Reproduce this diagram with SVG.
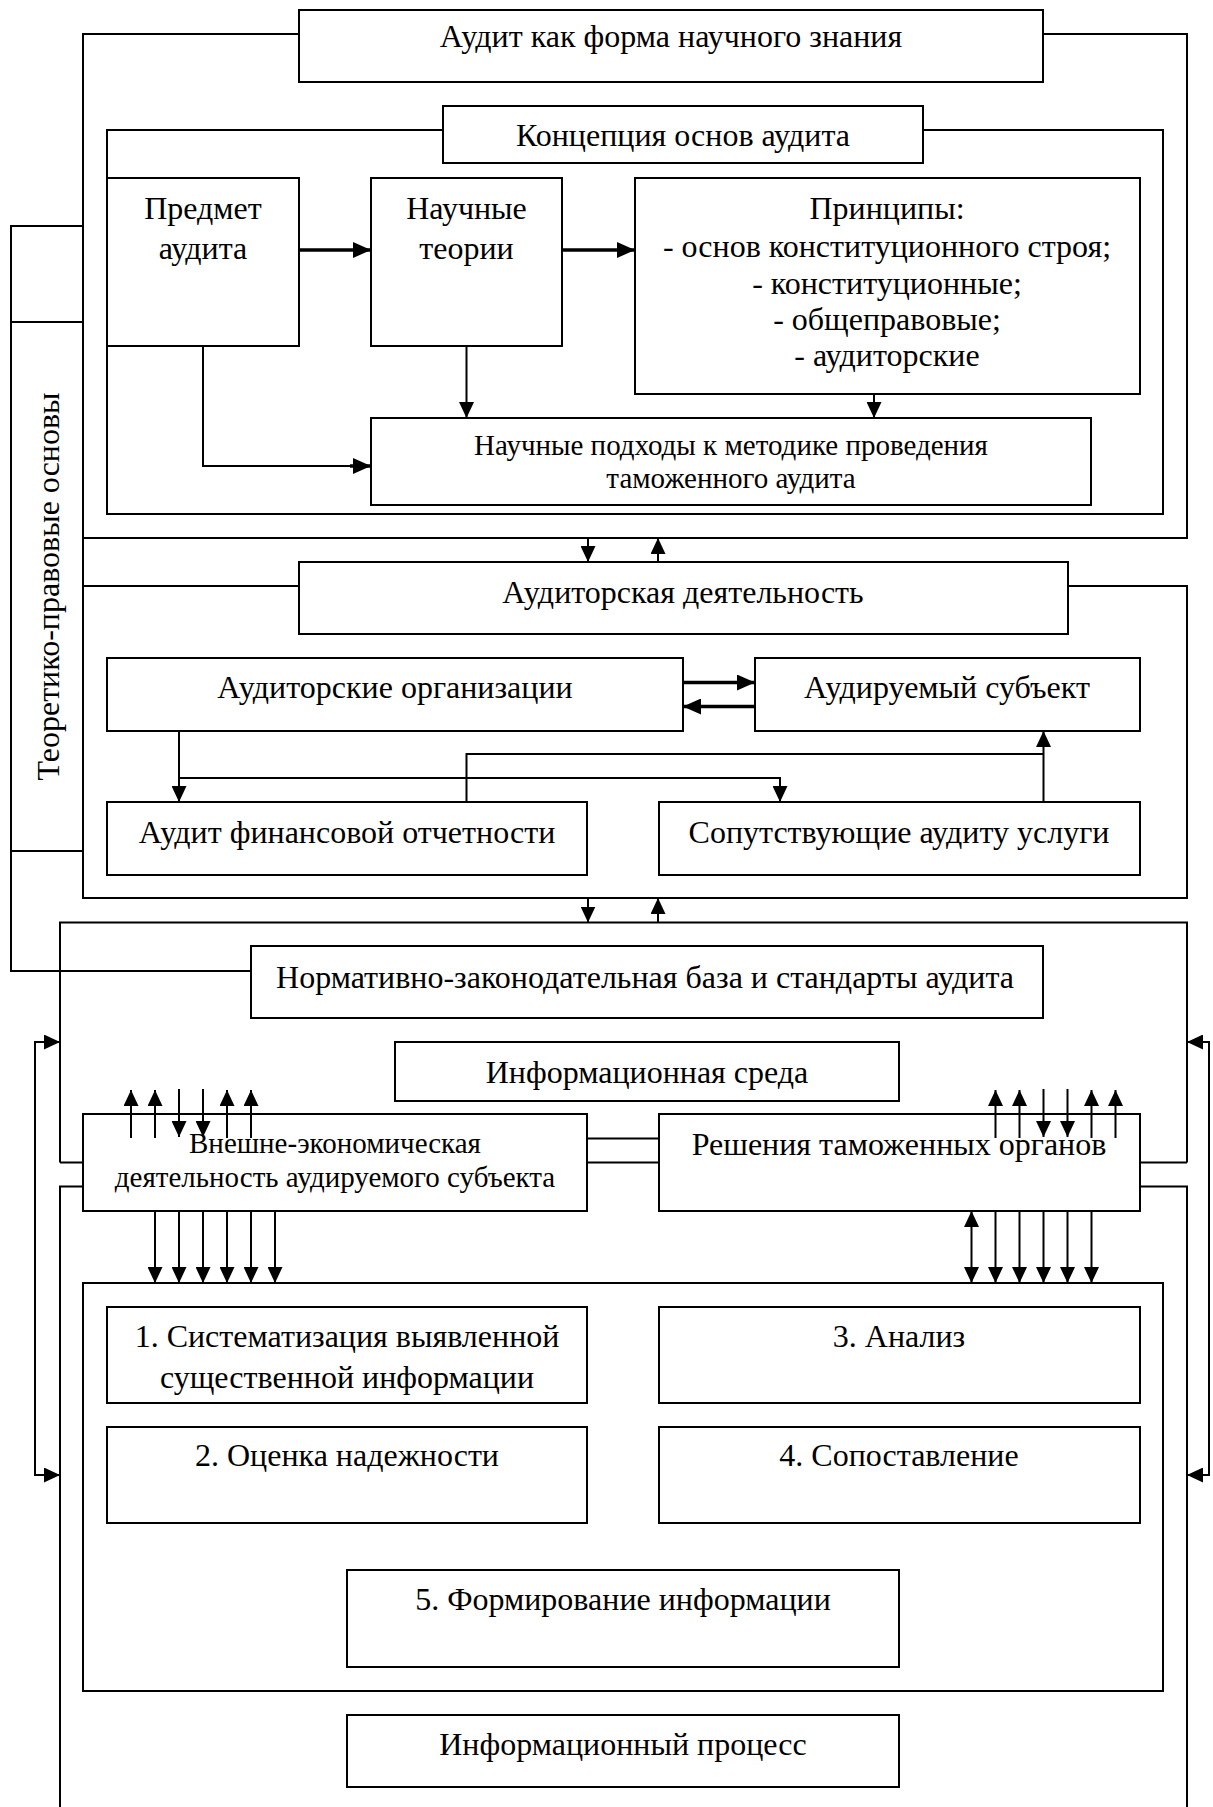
<svg xmlns="http://www.w3.org/2000/svg" width="1213" height="1807" viewBox="0 0 1213 1807">
<style>
  .box{fill:#fff;stroke:#000;stroke-width:2}
  .frame{fill:none;stroke:#000;stroke-width:2}
  .ln{fill:none;stroke:#000;stroke-width:2}
  .ar{fill:none;stroke:#000;stroke-width:2;marker-end:url(#ah)}
  .arb{fill:none;stroke:#000;stroke-width:3.5;marker-end:url(#ahb)}
  text{font-family:"Liberation Serif","Times New Roman",serif;font-size:32px;fill:#000;text-anchor:middle}
  .sm{font-size:29px}
</style>
<defs>
  <marker id="ah" viewBox="0 0 16 15" refX="16" refY="7.5" markerWidth="16" markerHeight="15" markerUnits="userSpaceOnUse" orient="auto">
    <path d="M0,0 L16,7.5 L0,15 z" fill="#000"/>
  </marker>
  <marker id="ahb" viewBox="0 0 18 16" refX="18" refY="8" markerWidth="18" markerHeight="16" markerUnits="userSpaceOnUse" orient="auto">
    <path d="M0,0 L18,8 L0,16 z" fill="#000"/>
  </marker>
</defs>
<rect width="1213" height="1807" fill="#fff"/>

<!-- frames -->
<g id="frames">
  <rect class="frame" x="83" y="34" width="1104" height="504"/>
  <rect class="frame" x="107" y="130" width="1056" height="384"/>
  <rect class="frame" x="83" y="586" width="1104" height="312"/>
  <path class="frame" d="M60,1162.5 V922.5 H1187 V1162.5"/>
  <path class="frame" d="M60,1162.5 H83 M1140,1162.5 H1187"/>
  <path class="frame" d="M83,1186.5 H60 V1807 M1140,1186.5 H1187 V1807"/>
  <path class="frame" d="M587,1138.5 H659 M587,1162.5 H659"/>
  <rect class="frame" x="83" y="1283" width="1080" height="408"/>
</g>

<!-- connectors -->
<g id="connectors">
  <path class="ln" d="M83,226 H11 V971 H251"/>
  <path class="arb" d="M299,250 H371"/>
  <path class="arb" d="M562,250 H635"/>
  <path class="ar" d="M466.5,346 V418"/>
  <path class="ar" d="M874,394 V418"/>
  <path class="ln" d="M203,346 V466 H360"/>
  <path class="arb" d="M350,466 H371"/>
  <path class="ar" d="M588,538 V562"/>
  <path class="ar" d="M658,562 V538"/>
  <path class="ar" d="M588,898 V922.5"/>
  <path class="ar" d="M658,922.5 V898"/>
  <path class="arb" d="M683,682.5 H755"/>
  <path class="arb" d="M755,706.5 H683"/>
  <path class="ar" d="M179,731 V802"/>
  <path class="ar" d="M179,778 H780 V802"/>
  <path class="ln" d="M466.5,802 V754 H1043.5"/>
  <path class="ar" d="M1043.5,802 V731"/>
  <!-- loops -->
  <path class="ar" d="M35,1300 V1042 H60"/>
  <path class="ar" d="M35,1300 V1475 H60"/>
  <path class="ar" d="M1209,1300 V1042 H1187"/>
  <path class="ar" d="M1209,1300 V1475 H1187"/>
  <!-- below VED -->
  <path class="ar" d="M155,1211 V1283"/>
  <path class="ar" d="M179,1211 V1283"/>
  <path class="ar" d="M203,1211 V1283"/>
  <path class="ar" d="M227,1211 V1283"/>
  <path class="ar" d="M251,1211 V1283"/>
  <path class="ar" d="M275,1211 V1283"/>
  <!-- below Resheniya -->
  <path class="ar" d="M971.5,1247 V1211"/>
  <path class="ar" d="M971.5,1247 V1283"/>
  <path class="ar" d="M995.5,1211 V1283"/>
  <path class="ar" d="M1019.5,1211 V1283"/>
  <path class="ar" d="M1043.5,1211 V1283"/>
  <path class="ar" d="M1067.5,1211 V1283"/>
  <path class="ar" d="M1091.5,1211 V1283"/>
</g>

<g id="n-audit-nauka"><rect class="box" x="299" y="10" width="744" height="72"/><text x="671" y="47">Аудит как форма научного знания</text></g>
<g id="n-koncepciya"><rect class="box" x="443" y="106" width="480" height="57"/><text x="683" y="146">Концепция основ аудита</text></g>
<g id="n-predmet"><rect class="box" x="107" y="178" width="192" height="168"/><text x="203" y="219">Предмет</text><text x="203" y="259">аудита</text></g>
<g id="n-teorii"><rect class="box" x="371" y="178" width="191" height="168"/><text x="466.5" y="219">Научные</text><text x="466.5" y="259">теории</text></g>
<g id="n-principy"><rect class="box" x="635" y="178" width="505" height="216"/>
  <text x="887" y="218.5">Принципы:</text>
  <text x="887" y="257">- основ конституционного строя;</text>
  <text x="887" y="293.5">- конституционные;</text>
  <text x="887" y="329.5">- общеправовые;</text>
  <text x="887" y="365.5">- аудиторские</text></g>
<g id="n-podhody"><rect class="box" x="371" y="418" width="720" height="87"/><text class="sm" x="731" y="455">Научные подходы к методике проведения</text><text class="sm" x="731" y="488">таможенного аудита</text></g>

<g id="n-teor-prav"><rect class="box" x="11" y="322" width="72" height="529"/><text transform="translate(59,586.5) rotate(-90)" x="0" y="0">Теоретико-правовые основы</text></g>

<g id="n-audit-deyat"><rect class="box" x="299" y="562" width="769" height="72"/><text x="683" y="603">Аудиторская деятельность</text></g>
<g id="n-audit-org"><rect class="box" x="107" y="658" width="576" height="73"/><text x="395" y="698">Аудиторские организации</text></g>
<g id="n-audit-subj"><rect class="box" x="755" y="658" width="385" height="73"/><text x="947" y="698">Аудируемый субъект</text></g>
<g id="n-audit-fin"><rect class="box" x="107" y="802" width="480" height="73"/><text x="347" y="843">Аудит финансовой отчетности</text></g>
<g id="n-soput"><rect class="box" x="659" y="802" width="481" height="73"/><text x="899" y="843">Сопутствующие аудиту услуги</text></g>

<g id="n-normativ"><rect class="box" x="251" y="946" width="792" height="72"/><text x="645" y="988">Нормативно-законодательная база и стандарты аудита</text></g>
<g id="n-info-sreda"><rect class="box" x="395" y="1042" width="504" height="59"/><text x="647" y="1083">Информационная среда</text></g>
<g id="n-ved"><rect class="box" x="83" y="1114" width="504" height="97"/><text class="sm" x="335" y="1153">Внешне-экономическая</text><text class="sm" x="335" y="1186.5">деятельность аудируемого субъекта</text></g>
<g id="n-resheniya"><rect class="box" x="659" y="1114" width="481" height="97"/><text x="899" y="1155">Решения таможенных органов</text></g>

<g id="n-1"><rect class="box" x="107" y="1307" width="480" height="96"/><text x="347" y="1347">1. Систематизация выявленной</text><text x="347" y="1388">существенной информации</text></g>
<g id="n-3"><rect class="box" x="659" y="1307" width="481" height="96"/><text x="899" y="1347">3. Анализ</text></g>
<g id="n-2"><rect class="box" x="107" y="1427" width="480" height="96"/><text x="347" y="1466">2. Оценка надежности</text></g>
<g id="n-4"><rect class="box" x="659" y="1427" width="481" height="96"/><text x="899" y="1466">4. Сопоставление</text></g>
<g id="n-5"><rect class="box" x="347" y="1570" width="552" height="97"/><text x="623" y="1610">5. Формирование информации</text></g>
<g id="n-info-process"><rect class="box" x="347" y="1715" width="552" height="72"/><text x="623" y="1755">Информационный процесс</text></g>

<!-- arrows drawn over the top edges of VED / Resheniya boxes -->
<g id="connectors-top">
  <path class="ar" d="M131,1138 V1090"/>
  <path class="ar" d="M155,1138 V1090"/>
  <path class="ar" d="M179,1089 V1137"/>
  <path class="ar" d="M203,1089 V1137"/>
  <path class="ar" d="M227,1138 V1090"/>
  <path class="ar" d="M251,1138 V1090"/>
  <path class="ar" d="M995.5,1138 V1090"/>
  <path class="ar" d="M1019.5,1138 V1090"/>
  <path class="ar" d="M1043.5,1089 V1137"/>
  <path class="ar" d="M1067.5,1089 V1137"/>
  <path class="ar" d="M1091.5,1138 V1090"/>
  <path class="ar" d="M1115.5,1138 V1090"/>
</g>
</svg>
